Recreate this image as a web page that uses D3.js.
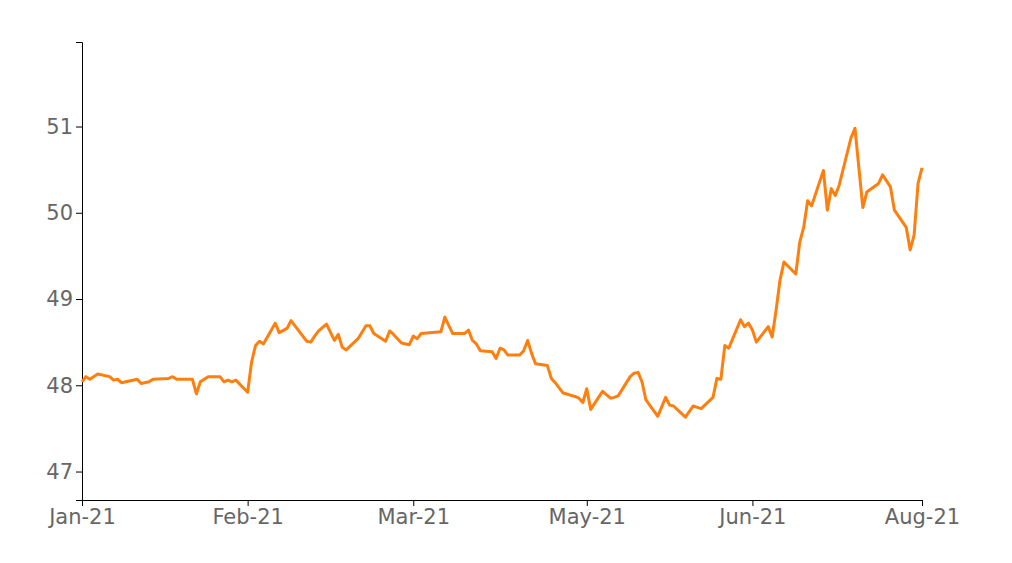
<!DOCTYPE html>
<html>
<head>
<meta charset="utf-8">
<script src="https://cdn.jsdelivr.net/npm/d3@7"></script>
<style>
  html, body { margin: 0; padding: 0; background: #fff; }
  svg { display: block; }
  .axis text { font-family: "DejaVu Sans", sans-serif; font-size: 21px; fill: #666; }
  .axis path, .axis line { stroke: #000; }
</style>
</head>
<body>
<script>
// Day offsets from the first observation (x) and series values (y)
const days = [0,1,2,4,7,8,9,10,14,15,17,18,22,23,24,28,29,30,32,35,36,37,38,39,42,43,44,45,46,49,50,52,53,57,58,59,60,62,64,65,66,67,70,72,73,74,77,78,79,81,83,84,85,86,91,92,94,97,98,99,100,101,104,105,106,107,108,111,112,113,114,115,118,119,120,122,125,126,127,128,129,132,134,135,136,139,140,141,142,143,146,148,149,150,153,155,157,160,161,162,163,164,167,168,169,170,171,174,175,176,177,178,181,182,183,184,185,188,189,190,191,192,195,196,198,199,202,203,205,206,209,210,211,212,213];
const values = [48.04,48.10,48.07,48.13,48.10,48.06,48.07,48.03,48.07,48.02,48.04,48.07,48.08,48.10,48.07,48.07,47.90,48.04,48.10,48.10,48.04,48.06,48.04,48.06,47.92,48.27,48.46,48.51,48.48,48.72,48.61,48.66,48.75,48.51,48.50,48.57,48.63,48.71,48.52,48.59,48.44,48.41,48.54,48.69,48.69,48.60,48.51,48.63,48.59,48.49,48.47,48.57,48.54,48.60,48.62,48.79,48.60,48.60,48.64,48.52,48.48,48.40,48.39,48.31,48.43,48.41,48.35,48.35,48.40,48.52,48.37,48.25,48.23,48.08,48.03,47.91,47.87,47.85,47.80,47.96,47.72,47.93,47.85,47.86,47.88,48.10,48.14,48.15,48.04,47.83,47.64,47.86,47.77,47.76,47.63,47.76,47.73,47.86,48.08,48.07,48.46,48.43,48.76,48.68,48.72,48.64,48.50,48.68,48.56,48.87,49.22,49.43,49.29,49.66,49.83,50.14,50.08,50.49,50.03,50.28,50.20,50.32,50.87,50.98,50.06,50.24,50.34,50.44,50.30,50.03,49.83,49.57,49.74,50.34,50.52];

const tickDays = [0, 42, 84, 128, 170, 213];
const tickLabels = ["Jan-21", "Feb-21", "Mar-21", "May-21", "Jun-21", "Aug-21"];
const yTicks = [47, 48, 49, 50, 51];
const yDomain = [46.67, 51.98];

const W = 1012, H = 563;
const margin = {top: 42, right: 90, bottom: 63, left: 82};

const data = days.map((d, i) => ({day: d, value: values[i]}));

const svg = d3.select("body").append("svg").attr("width", W).attr("height", H);

const x = d3.scaleLinear().domain([d3.min(days), d3.max(days)]).range([margin.left, W - margin.right]);
const y = d3.scaleLinear().domain(yDomain).range([H - margin.bottom, margin.top]);

svg.append("g").attr("class", "axis")
  .attr("transform", `translate(0,${H - margin.bottom})`)
  .call(d3.axisBottom(x).tickValues(tickDays).tickFormat((d, i) => tickLabels[i]));

svg.append("g").attr("class", "axis")
  .attr("transform", `translate(${margin.left},0)`)
  .call(d3.axisLeft(y).tickValues(yTicks).tickFormat(d3.format("d")));

svg.append("path")
  .datum(data)
  .attr("fill", "none")
  .attr("stroke", "#ff7f0e")
  .attr("stroke-width", 3)
  .attr("stroke-linejoin", "round")
  .attr("d", d3.line().x(d => x(d.day)).y(d => y(d.value)));
</script>
</body>
</html>
